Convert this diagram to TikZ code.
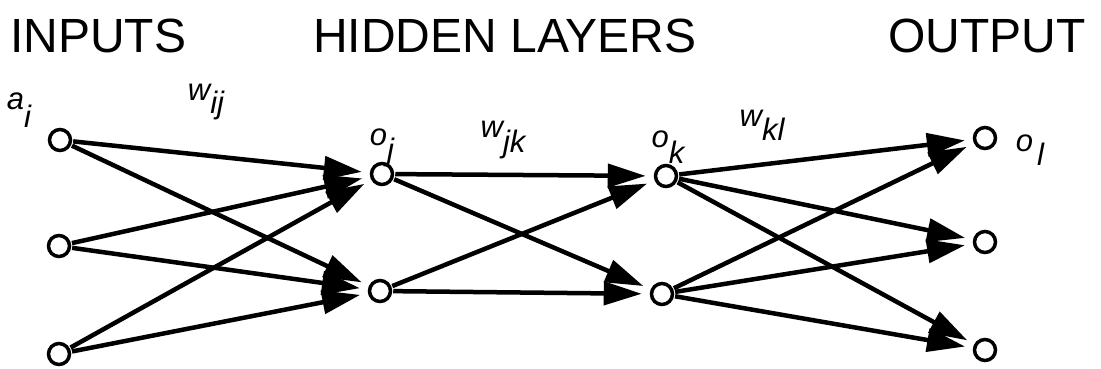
\documentclass[tikz,border=0pt]{standalone}
\usepackage{fontspec}
\setmainfont{Liberation Sans}
\usetikzlibrary{arrows.meta}
\begin{document}
\begin{tikzpicture}[x=1pt,y=-1pt,
  unit/.style={circle,draw,line width=3.5pt,minimum size=21pt,inner sep=0pt},
  conn/.style={line width=4.5pt,-{Triangle[length=38pt,width=23pt]},shorten >=8pt,shorten <=1pt},
  head/.style={font=\fontsize{48}{50}\selectfont,anchor=base west,inner sep=0pt},
  lab/.style={font=\fontsize{31}{33}\selectfont\itshape,inner sep=0pt}]
\useasboundingbox (0,0) rectangle (1101,368);
\node[head] (hin) at (10,52) {INPUTS};
\node[head] (hhid) at (313,52) {HIDDEN LAYERS};
\node[head] (hout) at (888,52) {OUTPUT};
\node[unit] (a1) at (60,140) {};
\node[unit] (a2) at (59,246) {};
\node[unit] (a3) at (59,354) {};
\node[unit] (j1) at (382,174) {};
\node[unit] (j2) at (380,291) {};
\node[unit] (k1) at (666,176) {};
\node[unit] (k2) at (662,294) {};
\node[unit] (l1) at (985,138) {};
\node[unit] (l2) at (985,242) {};
\node[unit] (l3) at (985,350) {};
\node[lab] (la) at (19,110) {a\raisebox{-0.6em}{i}};
\node[lab] (lw1) at (206,102) {w\raisebox{-0.45em}{ij}};
\node[lab] (loj) at (382,148) {o\raisebox{-0.5em}{j}};
\node[lab] (lw2) at (503,140) {w\raisebox{-0.5em}{jk}};
\node[lab] (lok) at (668,147) {o\raisebox{-0.5em}{k}};
\node[lab] (lw3) at (762,125) {w\raisebox{-0.45em}{kl}};
\node[lab] (lol) at (1030,150) {o\hspace{4pt}\raisebox{-0.45em}{l}};
\foreach \s in {a1,a2,a3} \foreach \t in {j1,j2} \draw[conn] (\s) -- (\t);
\foreach \s in {j1,j2} \foreach \t in {k1,k2} \draw[conn] (\s) -- (\t);
\foreach \s in {k1,k2} \foreach \t in {l1,l2,l3} \draw[conn] (\s) -- (\t);
\end{tikzpicture}
\end{document}
